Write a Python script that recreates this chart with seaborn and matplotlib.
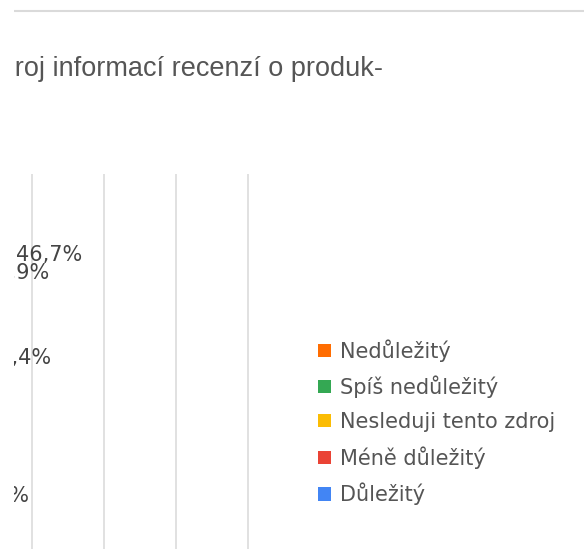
import matplotlib
matplotlib.use("Agg")
import matplotlib.pyplot as plt
import seaborn as sns
import pandas as pd
from matplotlib.patches import Patch, Rectangle
from matplotlib.lines import Line2D

# ------------------------------------------
# Data (graf je vlevo oriznuty, sloupce nejsou vykreslene)
# ------------------------------------------
title_text = "Zdroj informací recenzí o produk-"

series = ["Důležitý", "Méně důležitý", "Nesleduji tento zdroj", "Spíš nedůležitý", "Nedůležitý"]
series_colors = ["#4285f4", "#ea4335", "#fbbc04", "#34a853", "#ff6d01"]

# viditelne popisky dat
label_texts = ["46,7%", "23,9%", "13,4%", "6,7%"]
label_rows = [0, 0, 1, 2]
label_pos = [31.1, 19.6, 20.3, 15.0]
label_shift = [-9, 9, -22, 0]  # posun popisku kvuli prekryvu (px)

grid_ticks = [0, 25, 50, 75, 100]

W, H = 584, 549

sns.set_theme(style="white")
plt.rcParams['font.family'] = ['DejaVu Sans']

fig = plt.figure(figsize=(W / 100, H / 100), dpi=100)
fig.patch.set_facecolor("white")

# plot area: 0 % lezi mimo obrazek (x = -40 px), 2.88 px na 1 %
ax = fig.add_axes([-40 / W, 1 - 560 / H, 101 * 2.88 / W, (560 - 174) / H])
ax.set_xlim(0, 101)
ax.set_ylim(2.552, -0.776)
ax.set_xticks(grid_ticks)
ax.set_yticks([])
ax.tick_params(bottom=False, labelbottom=False, left=False, labelleft=False)
ax.grid(axis="x", color="#d9d9d9", linewidth=1.1)
ax.grid(axis="y", visible=False)
sns.despine(ax=ax, left=True, bottom=True)

labels_df = pd.DataFrame({"text": label_texts, "row": label_rows,
                          "pos": label_pos, "shift": label_shift})
for _, r in labels_df.iterrows():
    ax.annotate(r["text"], (r["pos"], r["row"]), xytext=(0, -r["shift"]),
                textcoords="offset pixels", ha="center", va="center",
                fontsize=15, color="#444444", annotation_clip=False)

# legenda
handles = [Patch(facecolor=c, edgecolor="none", label=s)
           for s, c in zip(series[::-1], series_colors[::-1])]
ax.legend(handles=handles, loc="upper left", bbox_to_anchor=(318 / W, 1 - 339 / H),
          bbox_transform=fig.transFigure, frameon=False, fontsize=15,
          handlelength=0.6, handleheight=0.6, handletextpad=0.45,
          labelspacing=0.67, borderpad=0, borderaxespad=0, labelcolor="#555555")

# titulek (konec zarovnany na x = 383 px)
fig.text(383 / W, 1 - 76 / H, title_text, ha="right", va="baseline",
         fontsize=19.5, family="Liberation Sans", color="#555555")

# horni linka a orez vlevo
fig.add_artist(Line2D([0, 1], [1 - 11 / H, 1 - 11 / H], transform=fig.transFigure,
                      color="#dadada", linewidth=1.5))
fig.add_artist(Rectangle((0, 0), 14 / W, 1, transform=fig.transFigure,
                         facecolor="white", edgecolor="none", zorder=100))

fig.savefig("out.png", dpi=100)
